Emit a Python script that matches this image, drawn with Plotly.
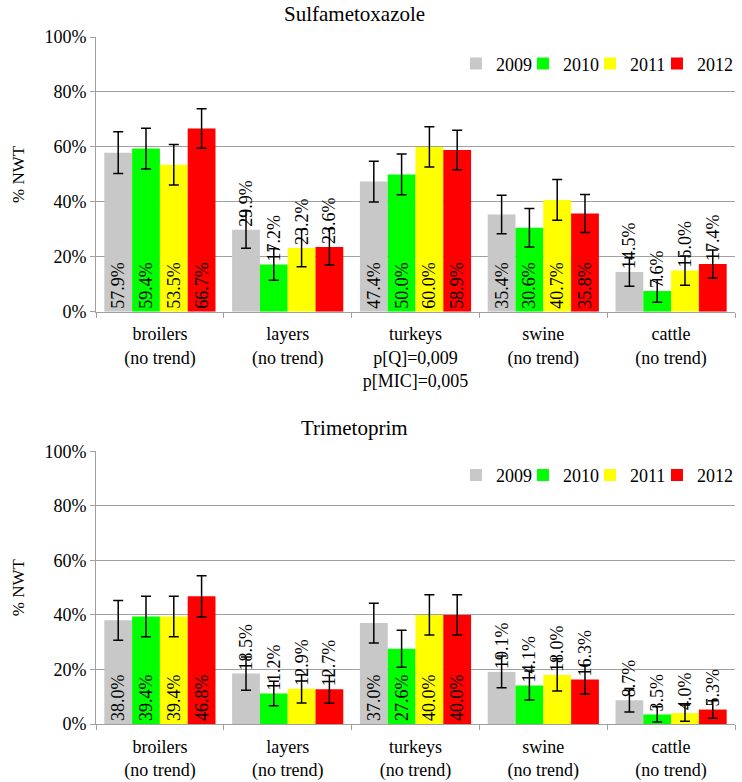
import plotly.graph_objects as go

species = ["broilers", "layers", "turkeys", "swine", "cattle"]
trend_sulfa = ["(no trend)", "(no trend)", "p[Q]=0,009<br>p[MIC]=0,005", "(no trend)", "(no trend)"]
trend_tmp = ["(no trend)", "(no trend)", "(no trend)", "(no trend)", "(no trend)"]
years = ["2009", "2010", "2011", "2012"]
colors = ["#C8C8C8", "#00FF00", "#FFFF00", "#FF0000"]

sulfa_2009 = [57.9, 29.9, 47.4, 35.4, 14.5]
sulfa_2010 = [59.4, 17.2, 50.0, 30.6, 7.6]
sulfa_2011 = [53.5, 23.2, 60.0, 40.7, 15.0]
sulfa_2012 = [66.7, 23.6, 58.9, 35.8, 17.4]
sulfa_err_2009 = [7.6, 6.8, 7.4, 7.0, 5.2]
sulfa_err_2010 = [7.4, 5.7, 7.4, 7.0, 4.1]
sulfa_err_2011 = [7.4, 6.8, 7.3, 7.4, 5.3]
sulfa_err_2012 = [7.2, 6.6, 7.2, 6.9, 5.1]

tmp_2009 = [38.0, 18.5, 37.0, 19.1, 8.7]
tmp_2010 = [39.4, 11.2, 27.6, 14.1, 3.5]
tmp_2011 = [39.4, 12.9, 40.0, 18.0, 4.0]
tmp_2012 = [46.8, 12.7, 40.0, 16.3, 5.3]
tmp_err_2009 = [7.3, 6.1, 7.3, 5.8, 4.3]
tmp_err_2010 = [7.4, 4.5, 6.8, 5.3, 2.8]
tmp_err_2011 = [7.4, 5.2, 7.4, 5.9, 3.0]
tmp_err_2012 = [7.6, 5.1, 7.4, 5.3, 3.2]

sulfa_label_pos = ["inside", "outside", "inside", "inside", "outside"]
tmp_label_pos = ["inside", "outside", "inside", "outside", "outside"]

FONT = "Liberation Serif"

x_sulfa = [f"{s}<br>{t}" for s, t in zip(species, trend_sulfa)]
x_tmp = [f"{s}<br>{t}" for s, t in zip(species, trend_tmp)]

fig = go.Figure()

# one small legend per year and panel, so entries sit close together like the original
legend_x = [0.5633, 0.6682, 0.7731, 0.8779]
panels = [
    (x_sulfa, [sulfa_2009, sulfa_2010, sulfa_2011, sulfa_2012],
     [sulfa_err_2009, sulfa_err_2010, sulfa_err_2011, sulfa_err_2012],
     sulfa_label_pos, "x", "y", ["legend", "legend2", "legend3", "legend4"], 0.961),
    (x_tmp, [tmp_2009, tmp_2010, tmp_2011, tmp_2012],
     [tmp_err_2009, tmp_err_2010, tmp_err_2011, tmp_err_2012],
     tmp_label_pos, "x2", "y2", ["legend5", "legend6", "legend7", "legend8"], 0.362),
]

legend_layout = {}
for xs, vals, errs, pos, xa, ya, lgs, ly in panels:
    for yr, col, v, e, lg, lx in zip(years, colors, vals, errs, lgs, legend_x):
        fig.add_trace(go.Bar(
            x=xs, y=v, name=yr, marker=dict(color=col, line=dict(width=0)),
            error_y=dict(type="data", array=e, visible=True, color="black",
                         thickness=1.5, width=5),
            text=[f"{val:.1f}%" for val in v],
            textposition=pos, textangle=-90, insidetextanchor="start",
            textfont=dict(family=FONT, size=18, color="black"),
            constraintext="none", cliponaxis=False, showlegend=True,
            xaxis=xa, yaxis=ya, legend=lg, hoverinfo="skip",
        ))
        legend_layout[lg] = dict(orientation="h", x=lx, xanchor="left", y=ly,
                                 yanchor="middle", bgcolor="rgba(0,0,0,0)",
                                 font=dict(family=FONT, size=18), itemwidth=30)

axis_x = dict(type="category", showline=True, linecolor="#A0A0A0", linewidth=1,
              ticks="outside", tickson="boundaries", ticklen=5, tickcolor="#A0A0A0",
              tickfont=dict(family=FONT, size=18, color="black"),
              ticklabelstandoff=6, showgrid=False, zeroline=False, automargin=False)
axis_y = dict(range=[0, 100], dtick=20, ticksuffix="%", showline=True,
              linecolor="#A0A0A0", linewidth=1, ticks="outside", ticklen=5,
              tickcolor="#A0A0A0", showgrid=True, gridcolor="#A0A0A0", gridwidth=1,
              zeroline=False, tickfont=dict(family=FONT, size=18, color="black"),
              automargin=False,
              title=dict(text="% NWT", font=dict(family=FONT, size=17, color="black"),
                         standoff=15))

fig.update_layout(
    width=742, height=782,
    margin=dict(l=96, r=7, t=37, b=58, autoexpand=False),
    paper_bgcolor="white", plot_bgcolor="white",
    showlegend=True,
    barmode="group", bargap=0.13, bargroupgap=0,
    font=dict(family=FONT, size=18, color="black"),
    xaxis=dict(axis_x, anchor="y"),
    yaxis=dict(axis_y, domain=[0.600, 1.0], anchor="x"),
    xaxis2=dict(axis_x, anchor="y2"),
    yaxis2=dict(axis_y, domain=[0.0, 0.397], anchor="x2"),
    annotations=[
        dict(text="Sulfametoxazole", x=0.405, y=1.0335, xref="paper", yref="paper",
             showarrow=False, yanchor="middle", font=dict(family=FONT, size=21)),
        dict(text="Trimetoprim", x=0.405, y=0.431, xref="paper", yref="paper",
             showarrow=False, yanchor="middle", font=dict(family=FONT, size=21)),
    ],
    **legend_layout,
)

# remove the default 8px page margin so the figure fills the window exactly
fig.write_html("out.html", config={"displayModeBar": False},
               post_script="document.body.style.margin='0px';")
